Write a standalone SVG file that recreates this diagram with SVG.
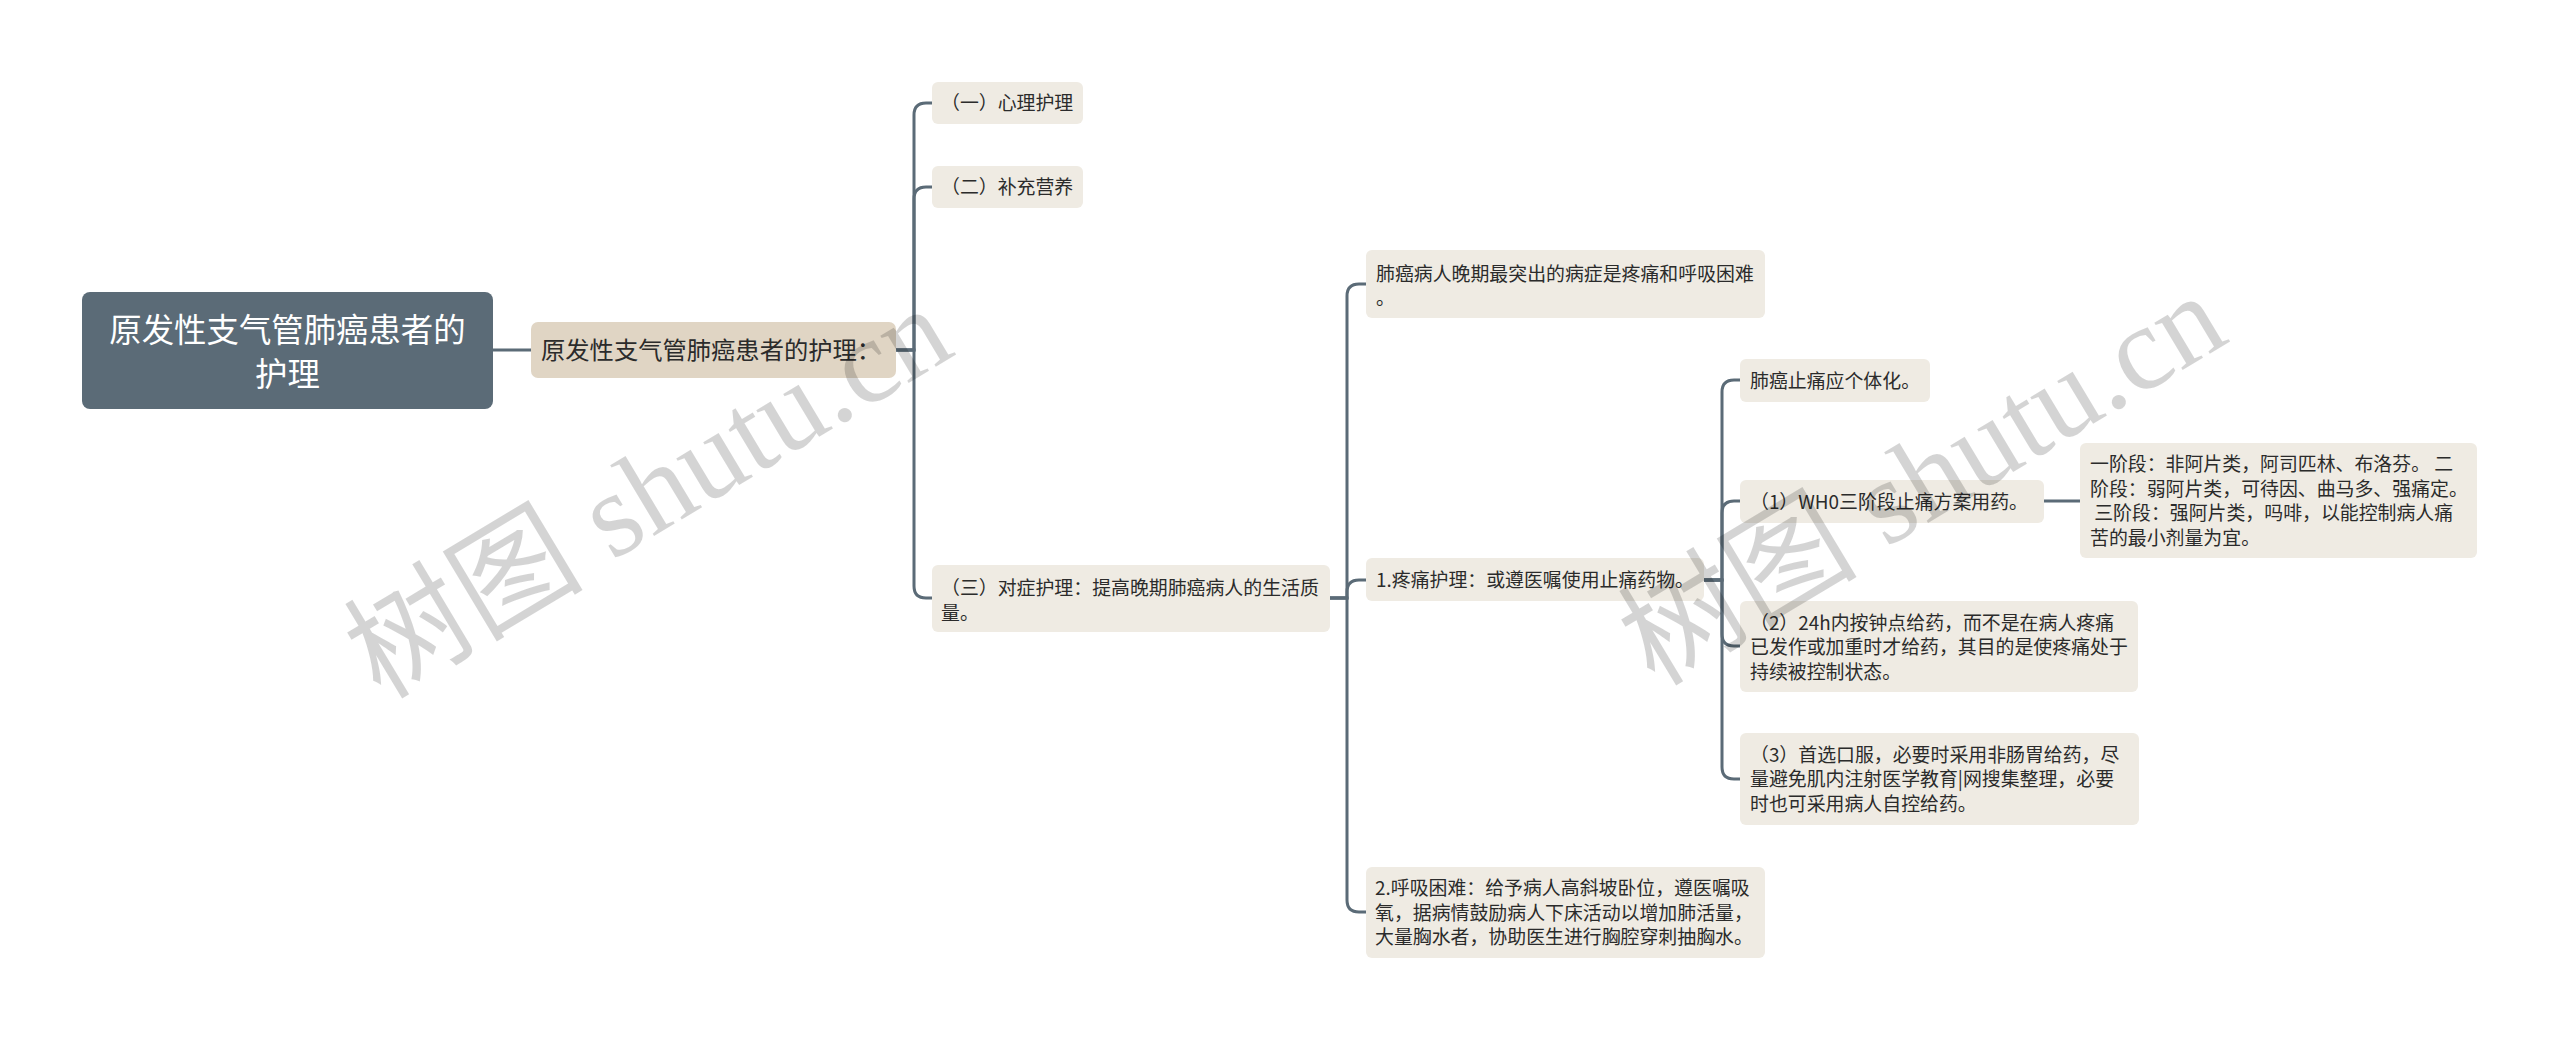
<svg xmlns="http://www.w3.org/2000/svg" width="2560" height="1040" viewBox="0 0 2560 1040">
<style>
text{font-family:"Noto Sans CJK SC","Noto Sans","Liberation Sans",sans-serif;fill:#2b2b2b}
.root rect{fill:#5b6b77}
.root text{fill:#ffffff;font-size:32.4px;text-anchor:middle}
.l1 rect{fill:#e0d5c4}
.l1 text{font-size:24.3px}
.leaf rect{fill:#efebe3}
.leaf text{font-size:18.9px}
#connectors path{fill:none;stroke:#5b6b77;stroke-width:3;stroke-linecap:round}
.wm{font-family:"Liberation Serif","Noto Sans CJK SC",serif;font-size:120px;fill:#000;fill-opacity:0.17;text-anchor:middle}
</style>
<rect width="2560" height="1040" fill="#ffffff"/>
<g id="connectors">
<path d="M493 350H531"/>
<path d="M896 350H914V115Q914 103 926 103H932"/>
<path d="M896 350H914V199Q914 187 926 187H932"/>
<path d="M896 350H914V586Q914 598 926 598H932"/>
<path d="M1330 598H1347V296Q1347 284 1359 284H1366"/>
<path d="M1330 598H1347V592Q1347 580 1359 580H1366"/>
<path d="M1330 598H1347V900Q1347 912 1359 912H1366"/>
<path d="M1704 580H1722V392Q1722 380 1734 380H1740"/>
<path d="M1704 580H1722V513Q1722 501 1734 501H1740"/>
<path d="M1704 580H1722V634Q1722 646 1734 646H1740"/>
<path d="M1704 580H1722V767Q1722 779 1734 779H1740"/>
<path d="M2044 501H2080"/>
</g>
<g id="node-root" class="root">
<rect x="82" y="292" width="411" height="117" rx="8"/>
<text x="287.5" y="342">原发性支气管肺癌患者的</text>
<text x="287.5" y="386">护理</text>
</g>
<g id="node-main" class="l1">
<rect x="531" y="322" width="365" height="56" rx="7"/>
<text x="541" y="359">原发性支气管肺癌患者的护理：</text>
</g>
<g id="node-a" class="leaf">
<rect x="932" y="82" width="151" height="42" rx="6"/>
<text x="941" y="110">（一）心理护理</text>
</g>
<g id="node-b" class="leaf">
<rect x="932" y="166" width="151" height="42" rx="6"/>
<text x="941" y="194">（二）补充营养</text>
</g>
<g id="node-c" class="leaf">
<rect x="932" y="565" width="398" height="67" rx="6"/>
<text x="941" y="595">（三）对症护理：提高晚期肺癌病人的生活质</text>
<text x="941" y="620">量。</text>
</g>
<g id="node-c1" class="leaf">
<rect x="1366" y="250" width="399" height="68" rx="6"/>
<text x="1376" y="280.5">肺癌病人晚期最突出的病症是疼痛和呼吸困难</text>
<text x="1376" y="305">。</text>
</g>
<g id="node-c2" class="leaf">
<rect x="1366" y="558" width="338" height="43" rx="6"/>
<text x="1376" y="587">1.疼痛护理：或遵医嘱使用止痛药物。</text>
</g>
<g id="node-c3" class="leaf">
<rect x="1366" y="867" width="399" height="91" rx="6"/>
<text x="1375" y="895">2.呼吸困难：给予病人高斜坡卧位，遵医嘱吸</text>
<text x="1375" y="919.6">氧，据病情鼓励病人下床活动以增加肺活量，</text>
<text x="1375" y="944.2">大量胸水者，协助医生进行胸腔穿刺抽胸水。</text>
</g>
<g id="node-d1" class="leaf">
<rect x="1740" y="359" width="190" height="43" rx="6"/>
<text x="1750" y="388">肺癌止痛应个体化。</text>
</g>
<g id="node-d2" class="leaf">
<rect x="1740" y="480" width="304" height="43" rx="6"/>
<text x="1750" y="509">（1）WH0三阶段止痛方案用药。</text>
</g>
<g id="node-d3" class="leaf">
<rect x="1740" y="601" width="398" height="91" rx="6"/>
<text x="1750" y="629.5">（2）24h内按钟点给药，而不是在病人疼痛</text>
<text x="1750" y="654.1">已发作或加重时才给药，其目的是使疼痛处于</text>
<text x="1750" y="678.7">持续被控制状态。</text>
</g>
<g id="node-d4" class="leaf">
<rect x="1740" y="733" width="399" height="92" rx="6"/>
<text x="1750" y="761.5">（3）首选口服，必要时采用非肠胃给药，尽</text>
<text x="1750" y="786.1">量避免肌内注射医学教育|网搜集整理，必要</text>
<text x="1750" y="810.7">时也可采用病人自控给药。</text>
</g>
<g id="node-e1" class="leaf">
<rect x="2080" y="443" width="397" height="115" rx="6"/>
<text x="2090" y="471" xml:space="preserve">一阶段：非阿片类，阿司匹林、布洛芬。 二</text>
<text x="2090" y="495.6">阶段：弱阿片类，可待因、曲马多、强痛定。</text>
<text x="2090" y="520.2" xml:space="preserve"> 三阶段：强阿片类，吗啡，以能控制病人痛</text>
<text x="2090" y="544.8">苦的最小剂量为宜。</text>
</g>
<g id="watermark">
<text class="wm" x="669" y="527" transform="rotate(-31 669 527)">树图 shutu.cn</text>
<text class="wm" x="1943" y="514" transform="rotate(-31 1943 514)">树图 shutu.cn</text>
</g>
</svg>
